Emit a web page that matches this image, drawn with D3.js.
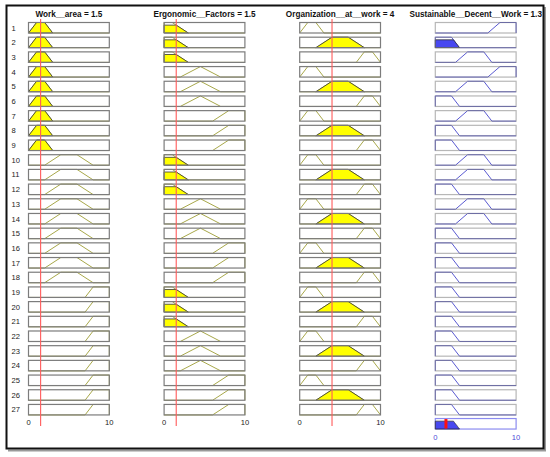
<!DOCTYPE html>
<html>
<head>
<meta charset="utf-8">
<script src="https://cdn.jsdelivr.net/npm/d3@7"></script>
<style>
  body { margin: 0; background: #fff; }
  svg { display: block; font-family: Arial, "Liberation Sans", sans-serif; }
</style>
</head>
<body>
<div id="chart"></div>
<script>
// fuzzy rule viewer: 3 inputs, 1 output, 27 rules

const inputNames = ["Work__area", "Ergonomic__Factors", "Organization__at__work"];
const inputValues = [1.5, 1.5, 4];
const outputName = "Sustainable__Decent__Work";

// trapezoid params [a, b, c, d] for Low / Medium / High
const workAreaMF = [[0, 1, 2, 3], [2, 4, 6, 8], [7, 8, 10, 10]];
const ergonomicMF = [[0, 0, 1, 3], [2, 4.5, 4.5, 7], [6, 8, 10, 10]];
const organizationMF = [[0, 1, 2, 3], [2, 4, 6, 8], [7, 8, 9, 10]];
const outputMF = [[0, 0, 2, 3], [2.5, 4, 6, 7], [6.5, 8, 10, 10]];

// rule antecedent / consequent MF index (0 low, 1 medium, 2 high)
const ruleWorkArea = [0, 0, 0, 0, 0, 0, 0, 0, 0, 1, 1, 1, 1, 1, 1, 1, 1, 1, 2, 2, 2, 2, 2, 2, 2, 2, 2];
const ruleErgonomic = [0, 0, 0, 1, 1, 1, 2, 2, 2, 0, 0, 0, 1, 1, 1, 2, 2, 2, 0, 0, 0, 1, 1, 1, 2, 2, 2];
const ruleOrganization = [0, 1, 2, 0, 1, 2, 0, 1, 2, 0, 1, 2, 0, 1, 2, 0, 1, 2, 0, 1, 2, 0, 1, 2, 0, 1, 2];
const ruleOutput = [2, 0, 1, 2, 1, 0, 1, 0, 0, 1, 1, 0, 1, 1, 0, 0, 0, 0, 0, 0, 0, 0, 0, 0, 0, 0, 0];

const inputMFs = [workAreaMF, ergonomicMF, organizationMF];
const ruleInputs = [ruleWorkArea, ruleErgonomic, ruleOrganization];

const width = 550;
const height = 457;
const colLeft = 28.5;
const colStep = 135.6;
const colWidth = 80.8;
const rowTop = 22.5;
const rowStep = 14.69;
const boxHeight = 10.5;

const inputLine = "#a8a84a";
const outputLine = "#5a5ad2";

const trapmf = (p, x) => {
  const [a, b, c, d] = p;
  if (x < a || x > d) return 0;
  if (x >= b && x <= c) return 1;
  if (x < b) return (x - a) / (b - a);
  return (d - x) / (d - c);
};

const mfLine = (p) => [[0, p[0] <= 0 && p[1] <= 0 ? 1 : 0], [p[0], 0], [p[1], 1], [p[2], 1], [p[3], 0], [10, p[3] >= 10 && p[2] >= 10 ? 1 : 0]]
  .filter((d, i) => !(i === 0 && p[0] <= 0) && !(i === 5 && p[3] >= 10));

const clipPoly = (p, h) => [
  [p[0], 0],
  [p[0] + (p[1] - p[0]) * h, h],
  [p[3] - (p[3] - p[2]) * h, h],
  [p[3], 0],
];

// firing strengths
const degrees = inputMFs.map((mfs, k) => mfs.map((p) => trapmf(p, inputValues[k])));
const strengths = ruleOutput.map((o, r) =>
  d3.min(ruleInputs.map((ri, k) => degrees[k][ri[r]])),
);

// aggregated output and centroid
const xs = d3.range(0, 10.0001, 0.01);
const aggregated = xs.map((x) => [
  x,
  d3.max(ruleOutput.map((o, r) => Math.min(trapmf(outputMF[o], x), strengths[r]))),
]);
const outputValue =
  d3.sum(aggregated, (d) => d[0] * d[1]) / d3.sum(aggregated, (d) => d[1]);

const svg = d3
  .select("#chart")
  .append("svg")
  .attr("width", width)
  .attr("height", height);

// frame with shadow
svg.append("path")
  .attr("d", `M545,7V450.5H8`)
  .attr("fill", "none")
  .attr("stroke", "#9a9a9a")
  .attr("stroke-width", 2);
svg.append("rect")
  .attr("x", 6.5)
  .attr("y", 5.5)
  .attr("width", 537)
  .attr("height", 443)
  .attr("fill", "#fff")
  .attr("stroke", "#111")
  .attr("stroke-width", 2);

const yRow = (r) =>
  d3.scaleLinear().domain([0, 1]).range([rowTop + r * rowStep + boxHeight, rowTop + r * rowStep]);

const line = d3.line();

// row numbers
svg.append("g")
  .attr("font-size", 7.6)
  .attr("fill", "#222")
  .selectAll("text")
  .data(ruleOutput)
  .join("text")
  .attr("x", 11.5)
  .attr("y", (d, r) => rowTop + r * rowStep + boxHeight / 2 + 2.8)
  .text((d, r) => r + 1);

const columns = [0, 1, 2, 3];
columns.forEach((c) => {
  const x = d3.scaleLinear().domain([0, 10]).range([colLeft + c * colStep, colLeft + c * colStep + colWidth]);
  const isOutput = c === 3;
  const g = svg.append("g").attr("class", `col col-${c}`);

  const title = isOutput
    ? `${outputName} = ${d3.format(".2~g")(outputValue)}`
    : `${inputNames[c]} = ${inputValues[c]}`;
  g.append("text")
    .attr("x", x(5))
    .attr("y", 16.6)
    .attr("text-anchor", "middle")
    .attr("font-size", 8.2)
    .attr("font-weight", "bold")
    .attr("fill", "#111")
    .text(title);

  ruleOutput.forEach((o, r) => {
    const y = yRow(r);
    const p = isOutput ? outputMF[o] : inputMFs[c][ruleInputs[c][r]];
    const h = isOutput ? strengths[r] : degrees[c][ruleInputs[c][r]];
    const gr = g.append("g");

    gr.append("rect")
      .attr("x", x(0))
      .attr("y", y(1))
      .attr("width", x(10) - x(0))
      .attr("height", boxHeight)
      .attr("fill", "#fff");

    gr.append("path")
      .attr("d", line(mfLine(p).map((d) => [x(d[0]), y(d[1])])))
      .attr("fill", "none")
      .attr("stroke", isOutput ? outputLine : inputLine)
      .attr("stroke-width", 1);

    if (h > 0) {
      gr.append("path")
        .attr("d", line(clipPoly(p, h).map((d) => [x(d[0]), y(d[1])])) + "Z")
        .attr("fill", isOutput ? "#4848f0" : "#ffff00")
        .attr("stroke", "#333")
        .attr("stroke-width", 0.8);
    }

    // box edge on top so the zero / one parts of the mf blend into it
    gr.append("rect")
      .attr("x", x(0))
      .attr("y", y(1))
      .attr("width", x(10) - x(0))
      .attr("height", boxHeight)
      .attr("fill", "none")
      .attr("stroke", "#7c7c7c")
      .attr("stroke-opacity", isOutput ? 0.55 : 1)
      .attr("stroke-width", 1.2);
  });

  if (isOutput) {
    const top = rowTop + 26 * rowStep + 14.1;
    const y = d3.scaleLinear().domain([0, 1]).range([top + boxHeight, top]);
    g.append("rect")
      .attr("x", x(0))
      .attr("y", top)
      .attr("width", x(10) - x(0))
      .attr("height", boxHeight)
      .attr("fill", "#fff")
      .attr("stroke", "#8c8cf0")
      .attr("stroke-width", 1.2);
    g.append("path")
      .attr("d", d3.area().x((d) => x(d[0])).y0(y(0)).y1((d) => y(d[1]))(aggregated.filter((d) => d[1] > 0)))
      .attr("fill", "#4848f0")
      .attr("stroke", "#333")
      .attr("stroke-width", 0.8);
    g.append("line")
      .attr("x1", x(outputValue))
      .attr("x2", x(outputValue))
      .attr("y1", top + 0.5)
      .attr("y2", top + boxHeight - 0.5)
      .attr("stroke", "#ff1010")
      .attr("stroke-width", 3);
    g.selectAll(".tick-label")
      .data(x.domain())
      .join("text")
      .attr("class", "tick-label")
      .attr("x", (d) => x(d))
      .attr("y", top + boxHeight + 10.6)
      .attr("text-anchor", "middle")
      .attr("font-size", 7.6)
      .attr("fill", "#4a4ad8")
      .text((d) => d);
  } else {
    g.selectAll(".tick-label")
      .data(x.domain())
      .join("text")
      .attr("class", "tick-label")
      .attr("x", (d) => x(d))
      .attr("y", rowTop + 26 * rowStep + boxHeight + 10.4)
      .attr("text-anchor", "middle")
      .attr("font-size", 7.6)
      .attr("fill", "#222")
      .text((d) => d);
    g.append("line")
      .attr("x1", x(inputValues[c]))
      .attr("x2", x(inputValues[c]))
      .attr("y1", 19)
      .attr("y2", 426)
      .attr("stroke", "#ff5a5a")
      .attr("stroke-width", 1.1);
  }
});
</script>
</body>
</html>
